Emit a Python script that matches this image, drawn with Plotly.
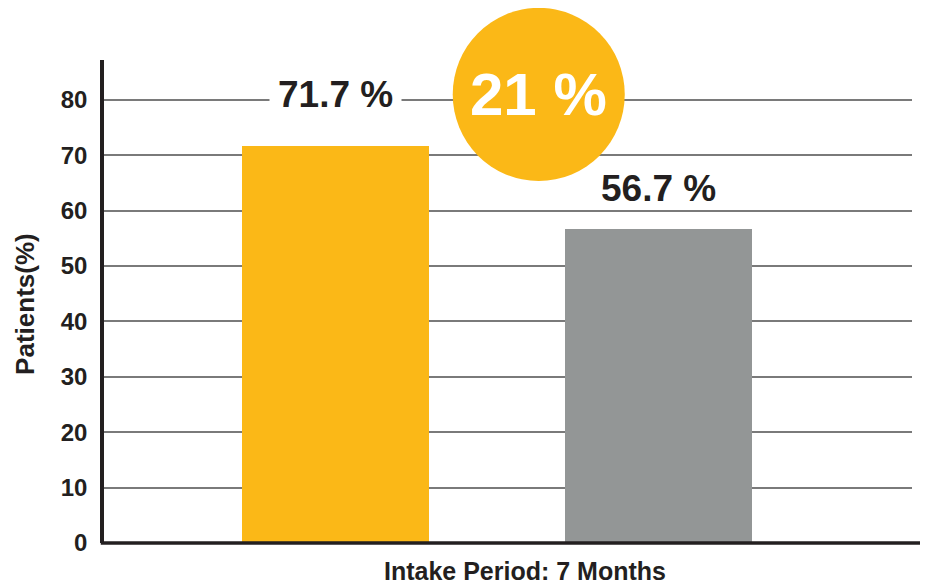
import plotly.graph_objects as go

categories = ["Group A", "Group B"]
values = [71.7, 56.7]
value_labels = ["71.7 %", "56.7 %"]
bar_colors = ["#FBB817", "#939696"]
difference_label = "21 %"
y_ticks = [0, 10, 20, 30, 40, 50, 60, 70, 80]
x_title = "Intake Period: 7 Months"
y_title = "Patients(%)"

FONT = "Liberation Sans, Arial, Helvetica, sans-serif"
DARK = "#231F20"

fig = go.Figure()
fig.add_trace(go.Bar(
    x=categories, y=values, marker=dict(color=bar_colors, line=dict(width=0)),
    width=0.579, showlegend=False, hoverinfo="skip",
))

# value labels above bars (first one interrupts the gridline behind it)
offsets = [9.2, 7.3]
label_bg = ["white", "rgba(0,0,0,0)"]
label_pad = [8, 0]
for cat, v, lab, off, bg, pad in zip(categories, values, value_labels, offsets, label_bg, label_pad):
    fig.add_annotation(
        x=cat, y=v + off, text=f"<b>{lab}</b>", showarrow=False,
        font=dict(family=FONT, size=37, color=DARK),
        bgcolor=bg, borderpad=pad, xanchor="center", yanchor="middle",
    )

# highlighted circle with difference
fig.add_shape(type="circle", xref="paper", yref="paper",
              x0=0.4316, x1=0.6445, y0=0.7495, y1=1.108,
              fillcolor="#FBB817", line=dict(width=0), layer="above")
fig.add_annotation(xref="paper", yref="paper", x=0.538, y=0.929,
                   text=f"<b>{difference_label}</b>", showarrow=False,
                   font=dict(family=FONT, size=60, color="white"),
                   xanchor="center", yanchor="middle")

# bottom axis line extending to the right edge
fig.add_shape(type="line", xref="paper", yref="paper",
              x0=-0.004, x1=1.03, y0=0, y1=0,
              line=dict(color=DARK, width=3.5), layer="above")

# axis titles as annotations
fig.add_annotation(xref="paper", yref="paper", x=0.521, y=-0.058,
                   text=f"<b>{x_title}</b>", showarrow=False,
                   font=dict(family=FONT, size=25, color=DARK),
                   xanchor="center", yanchor="middle")
fig.add_annotation(xref="paper", yref="paper", x=-0.0978, y=0.495,
                   text=f"<b>{y_title}</b>", showarrow=False, textangle=-90,
                   font=dict(family=FONT, size=26, color=DARK),
                   xanchor="center", yanchor="middle")

# page body has an 8px margin, so the figure is 8px smaller and margins shifted
fig.update_layout(
    width=920, height=578,
    margin=dict(l=96, r=16, t=52, b=43, autoexpand=False),
    paper_bgcolor="white", plot_bgcolor="white",
    font=dict(family=FONT, color=DARK),
    bargap=0,
    xaxis=dict(
        range=[-0.7167, 1.785], showticklabels=False, ticks="",
        showgrid=False, zeroline=False, showline=False, automargin=False,
    ),
    yaxis=dict(
        range=[0, 87.2], tickvals=y_ticks, ticktext=[f"<b>{t}</b>" for t in y_ticks],
        tickfont=dict(family=FONT, size=24, color=DARK),
        ticks="outside", ticklen=8, tickcolor="rgba(0,0,0,0)",
        showgrid=True, gridcolor="#7A7A7A", gridwidth=1.5,
        zeroline=False, showline=True, linecolor=DARK, linewidth=3.5,
        automargin=False,
    ),
)

fig.write_html("out.html")
